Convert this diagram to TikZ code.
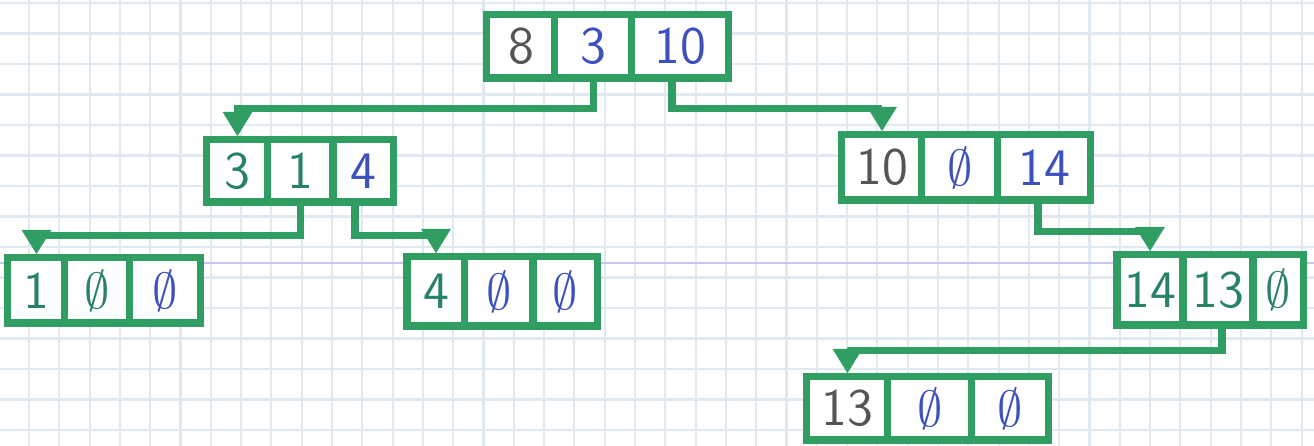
\documentclass[tikz,border=0pt]{standalone}
\usetikzlibrary{arrows.meta}
\definecolor{tgreen}{RGB}{48,158,98}
\definecolor{tteal}{RGB}{40,130,105}
\definecolor{tblue}{RGB}{60,80,190}
\definecolor{tgray}{RGB}{85,85,85}
\definecolor{gridc}{RGB}{224,232,240}
\definecolor{gridp}{RGB}{200,195,240}
\tikzset{
  cell/.style={draw=tgreen, line width=2pt, fill=white, inner sep=0pt,
    font=\sffamily\fontsize{15}{15}\selectfont},
  conn/.style={draw=tgreen, line width=2pt, -{Triangle[length=7pt,width=8pt]}},
  gv/.style={text=tgray}, bv/.style={text=tblue}, tv/.style={text=tteal}
}
\begin{document}
\begin{tikzpicture}[x=0.01cm,y=-0.01cm]
\useasboundingbox (0,0) rectangle (1314,446);
\fill[white] (0,0) rectangle (1314,446);
% grid paper
\foreach \i in {0,...,43} {\draw[gridc, line width=0.6pt] ({29+30.3*\i},0) -- ({29+30.3*\i},446);}
\foreach \j in {0,...,14} {\draw[gridc, line width=0.6pt] (0,{3+30.5*\j}) -- (1314,{3+30.5*\j});}
\draw[gridp, line width=0.8pt] (0,263) -- (1314,263);
% root
\node[cell, gv, minimum width=0.68cm, minimum height=0.63cm] (r1) at (521,46.5) {8};
\node[cell, bv, minimum width=0.77cm, minimum height=0.63cm] (r2) at (593.5,46.5) {3};
\node[cell, bv, minimum width=0.96cm, minimum height=0.63cm] (r3) at (680,46.5) {10};
% A
\node[cell, tv, minimum width=0.61cm, minimum height=0.62cm] (a1) at (237.5,171) {3};
\node[cell, tv, minimum width=0.65cm, minimum height=0.62cm] (a2) at (300.5,171) {1};
\node[cell, bv, minimum width=0.60cm, minimum height=0.62cm] (a3) at (363,171) {4};
% B
\node[cell, gv, minimum width=0.80cm, minimum height=0.65cm] (b1) at (882,167.5) {10};
\node[cell, bv, minimum width=0.76cm, minimum height=0.65cm] (b2) at (960,167.5) {$\emptyset$};
\node[cell, bv, minimum width=0.92cm, minimum height=0.65cm] (b3) at (1044,167.5) {14};
% LL
\node[cell, tv, minimum width=0.57cm, minimum height=0.65cm] (l1) at (36.5,290.5) {1};
\node[cell, tv, minimum width=0.65cm, minimum height=0.65cm] (l2) at (97.5,290.5) {$\emptyset$};
\node[cell, bv, minimum width=0.70cm, minimum height=0.65cm] (l3) at (165,290.5) {$\emptyset$};
% LR
\node[cell, tv, minimum width=0.58cm, minimum height=0.69cm] (m1) at (436,291.5) {4};
\node[cell, bv, minimum width=0.68cm, minimum height=0.69cm] (m2) at (499,291.5) {$\emptyset$};
\node[cell, bv, minimum width=0.64cm, minimum height=0.69cm] (m3) at (565,291.5) {$\emptyset$};
% RR
\node[cell, tv, minimum width=0.66cm, minimum height=0.70cm] (n1) at (1150,290) {14};
\node[cell, tv, minimum width=0.70cm, minimum height=0.70cm] (n2) at (1218,290) {13};
\node[cell, tv, minimum width=0.50cm, minimum height=0.70cm] (n3) at (1278,290) {$\emptyset$};
% RRL
\node[cell, gv, minimum width=0.81cm, minimum height=0.63cm] (p1) at (847.5,408.5) {13};
\node[cell, bv, minimum width=0.84cm, minimum height=0.63cm] (p2) at (930,408.5) {$\emptyset$};
\node[cell, bv, minimum width=0.76cm, minimum height=0.63cm] (p3) at (1010,408.5) {$\emptyset$};
% connectors
\draw[conn] (r2.south) -- ++(0,27) -| (a1.north);
\draw[conn] ([xshift=-0.08cm]r3.south) -- ++(0,27) -| (b1.north);
\draw[conn] (a2.south) -- ++(0,30) -| (l1.north);
\draw[conn] ([xshift=-0.08cm]a3.south) -- ++(0,30) -| (m1.north);
\draw[conn] ([xshift=-0.06cm]b3.south) -- ++(0,28) -| (n1.north);
\draw[conn] ([xshift=0.04cm]n2.south) -- ++(0,22) -| (p1.north);
\end{tikzpicture}
\end{document}
